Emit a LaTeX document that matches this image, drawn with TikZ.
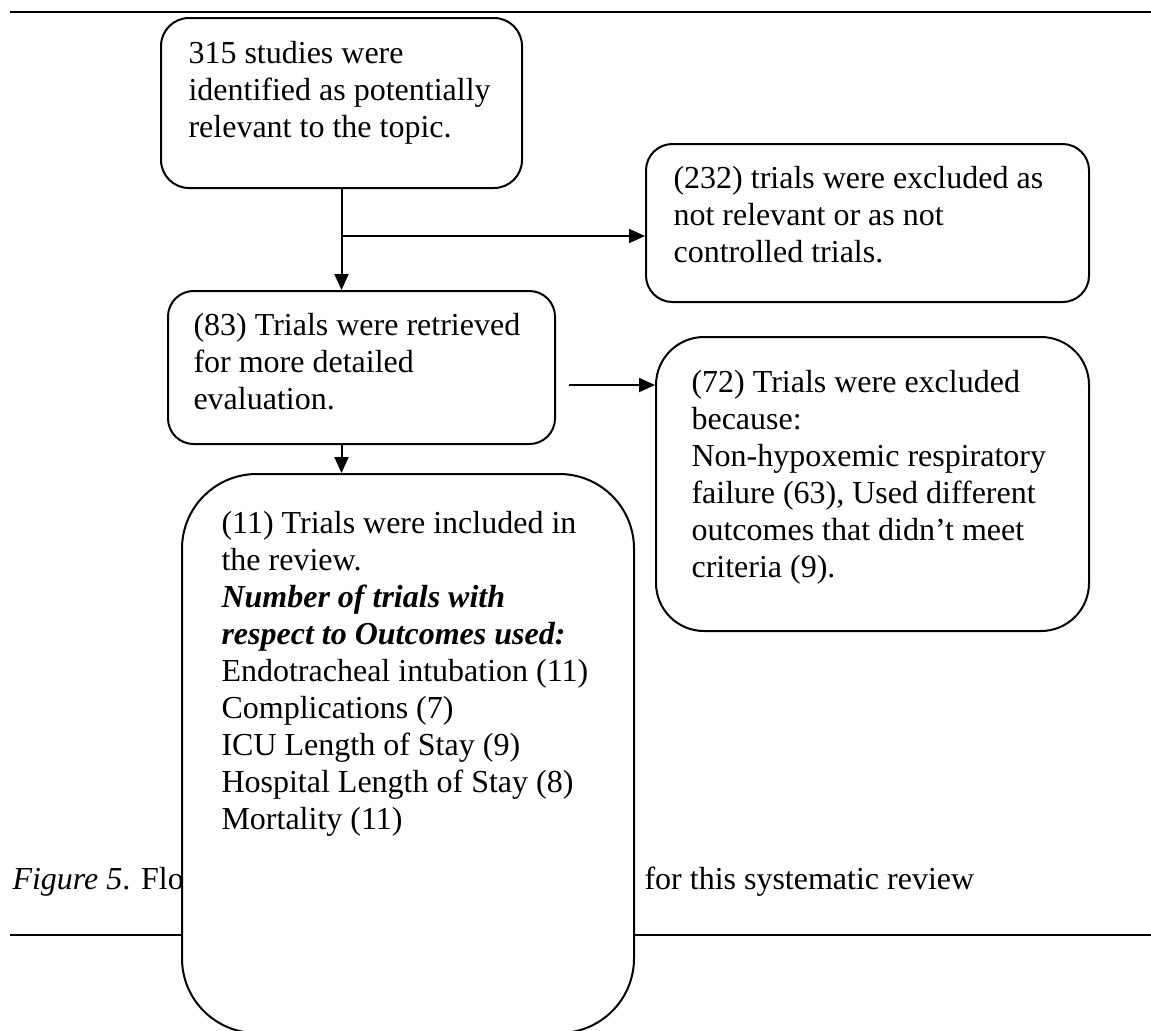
\documentclass[tikz,border=0pt]{standalone}
\usepackage{fontspec}
\setmainfont{Liberation Serif}
\usetikzlibrary{arrows.meta,calc,positioning}
\newlength{\unitpx}
\setlength{\unitpx}{0.375pt}

\begin{document}
\begin{tikzpicture}[x=0.375pt,y=-0.375pt,
  box/.style={draw, line width=0.75pt, inner sep=0, anchor=north west, fill=white},
  txt/.style={font=\fontsize{12}{13.875}\selectfont, align=left, inner sep=0, anchor=north west},
  arr/.style={-{Triangle[length=6pt,width=5.25pt]}, line width=0.75pt}]
\useasboundingbox (0,0) rectangle (1151,1030);

% page rules and caption, partly hidden by the last box
\draw[line width=0.75pt] (10,12) -- (1151,12);
\draw[line width=0.75pt] (10,935) -- (1151,935);
\node[txt, anchor=base west] (cap1) at (12,889) {\textit{Figure 5}. Flo};
\node[txt, anchor=base west] (cap2) at (644,889) {for this systematic review};

% boxes
\node[box, rounded corners=10.5pt, minimum width=361\unitpx, minimum height=170\unitpx] (b1) at (160,17) {};
\node[box, rounded corners=9.9pt, minimum width=443\unitpx, minimum height=158\unitpx] (b2) at (645,143) {};
\node[box, rounded corners=9.6pt, minimum width=387\unitpx, minimum height=153\unitpx] (b3) at (167,290) {};
\node[box, rounded corners=18pt, minimum width=433\unitpx, minimum height=294\unitpx] (b4) at (655,336) {};
\node[box, rounded corners=28pt, minimum width=452\unitpx, minimum height=559\unitpx] (b5) at (181,473) {};

\node[txt] (t1) at ($(b1.north west)+(28,20)$) {\strut 315 studies were\\identified as potentially\\relevant to the topic.};
\node[txt] (t2) at ($(b2.north west)+(28,19)$) {\strut (232) trials were excluded as\\not relevant or as not\\controlled trials.};
\node[txt] (t3) at ($(b3.north west)+(26,19)$) {\strut (83) Trials were retrieved\\for more detailed\\evaluation.};
\node[txt] (t4) at ($(b4.north west)+(36,30)$) {\strut (72) Trials were excluded\\because:\\Non-hypoxemic respiratory\\failure (63), Used different\\outcomes that didn’t meet\\criteria (9).};
\node[txt] (t5) at ($(b5.north west)+(40,34)$) {\strut (11) Trials were included in\\the review.\\\textbf{\textit{Number of trials with}}\\\textbf{\textit{respect to Outcomes used:}}\\Endotracheal intubation (11)\\Complications (7)\\ICU Length of Stay (9)\\Hospital Length of Stay (8)\\Mortality (11)};

% connectors
\coordinate (split) at ($(b1.south)+(0,47)$);
\coordinate (tip) at ($(b4.north west)+(0,49)$);
\coordinate (gap) at ($(b3.east |- tip)+(13,0)$);
\draw[arr] (b1.south) -- (b1.south |- b3.north);
\draw[arr] (split) -- (split -| b2.west);
\draw[arr] (b1.south |- b3.south) -- (b1.south |- b5.north);
\draw[arr] (gap) -- (gap -| b4.west);
\end{tikzpicture}
\end{document}
